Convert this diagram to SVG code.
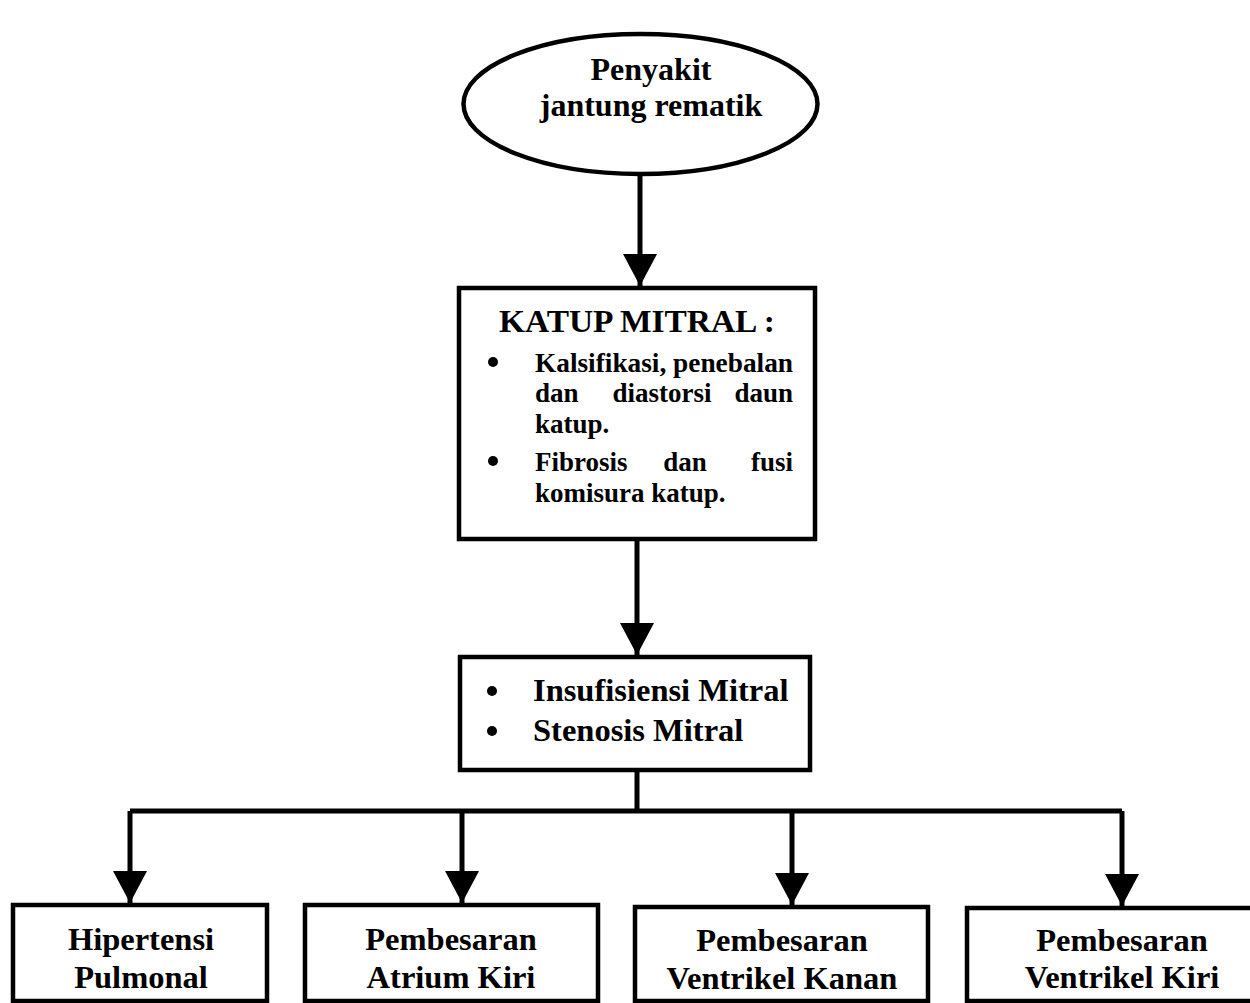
<svg xmlns="http://www.w3.org/2000/svg" width="1250" height="1003" viewBox="0 0 1250 1003">
<style>
  .shape { fill: #ffffff; stroke: #000000; stroke-width: 4.5; }
  .conn { fill: none; stroke: #000000; stroke-width: 5; }
  text { font-family: "Liberation Serif", "Times New Roman", serif; font-weight: bold; fill: #000000; }
  .big { font-size: 32.5px; }
  .oval { font-size: 32px; }
  .mid { font-size: 27px; }
  .c { text-anchor: middle; }
  .e { text-anchor: end; }
  .dot { fill: #000000; }
</style>
<defs>
  <marker id="arrow" markerUnits="userSpaceOnUse" markerWidth="33" markerHeight="35" refX="32" refY="17" orient="auto" viewBox="0 0 33 35">
    <path d="M0,0 L32,17 L0,34 Z" fill="#000000"/>
  </marker>
</defs>
<rect x="0" y="0" width="1250" height="1003" fill="#ffffff"/>

<g id="connectors">
  <path class="conn" d="M640,175 L640,286" marker-end="url(#arrow)"/>
  <path class="conn" d="M637,541 L637,655" marker-end="url(#arrow)"/>
  <path class="conn" d="M637,771 L637,811"/>
  <path class="conn" d="M130,811 L1122,811"/>
  <path class="conn" d="M130,811 L130,903" marker-end="url(#arrow)"/>
  <path class="conn" d="M462,811 L462,903" marker-end="url(#arrow)"/>
  <path class="conn" d="M792,811 L792,905" marker-end="url(#arrow)"/>
  <path class="conn" d="M1122,811 L1122,906" marker-end="url(#arrow)"/>
</g>

<g id="node-penyakit">
  <ellipse class="shape" cx="640.5" cy="104" rx="177" ry="70"/>
  <text class="oval c" x="651" y="80">Penyakit</text>
  <text class="oval c" x="651" y="116">jantung rematik</text>
</g>

<g id="node-katup">
  <rect class="shape" x="459" y="288" width="356" height="251"/>
  <text class="c" x="637" y="332" style="font-size:31px" textLength="276" lengthAdjust="spacingAndGlyphs">KATUP MITRAL :</text>
  <circle class="dot" cx="493" cy="362" r="5"/>
  <text class="mid" x="535" y="372" textLength="258" lengthAdjust="spacingAndGlyphs">Kalsifikasi, penebalan</text>
  <text class="mid" x="535" y="402">dan</text>
  <text class="mid c" x="662" y="402">diastorsi</text>
  <text class="mid e" x="793" y="402">daun</text>
  <text class="mid" x="535" y="433">katup.</text>
  <circle class="dot" cx="493" cy="461" r="5"/>
  <text class="mid" x="535" y="471">Fibrosis</text>
  <text class="mid c" x="685" y="471">dan</text>
  <text class="mid e" x="793" y="471">fusi</text>
  <text class="mid" x="535" y="502">komisura katup.</text>
</g>

<g id="node-insufisiensi">
  <rect class="shape" x="460" y="657" width="350" height="113"/>
  <circle class="dot" cx="492" cy="691" r="5"/>
  <text class="big" x="533" y="701">Insufisiensi Mitral</text>
  <circle class="dot" cx="492" cy="731" r="5"/>
  <text class="big" x="533" y="741">Stenosis Mitral</text>
</g>

<g id="node-hipertensi">
  <rect class="shape" x="13" y="905" width="254" height="96"/>
  <text class="big c" x="141" y="950">Hipertensi</text>
  <text class="big c" x="141" y="988">Pulmonal</text>
</g>

<g id="node-atrium-kiri">
  <rect class="shape" x="305" y="905" width="293" height="96"/>
  <text class="big c" x="451" y="950">Pembesaran</text>
  <text class="big c" x="451" y="988">Atrium Kiri</text>
</g>

<g id="node-ventrikel-kanan">
  <rect class="shape" x="635" y="907" width="293" height="94"/>
  <text class="big c" x="782" y="951">Pembesaran</text>
  <text class="big c" x="782" y="989">Ventrikel Kanan</text>
</g>

<g id="node-ventrikel-kiri">
  <rect class="shape" x="967" y="908" width="310" height="93"/>
  <text class="big c" x="1122" y="951">Pembesaran</text>
  <text class="big c" x="1122" y="988">Ventrikel Kiri</text>
</g>
</svg>
